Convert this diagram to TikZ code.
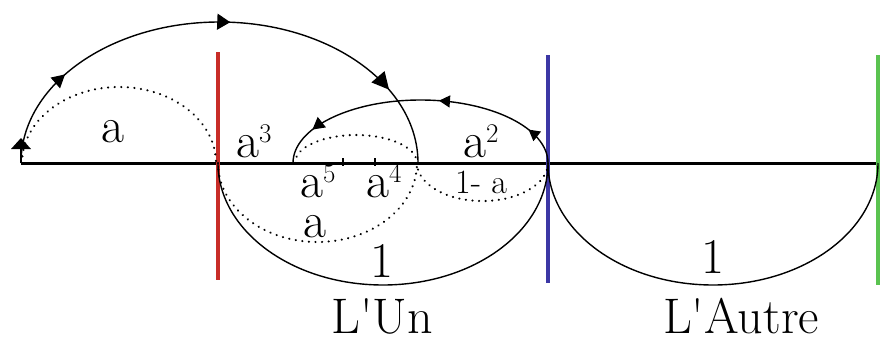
\documentclass[tikz,border=0pt]{standalone}
\usepackage{fontspec}
\usetikzlibrary{arrows.meta,decorations.markings}
\definecolor{redl}{RGB}{200,45,40}
\definecolor{bluel}{RGB}{60,55,165}
\definecolor{greenl}{RGB}{90,195,80}
\newcommand\supx[1]{\raisebox{15pt}{\fontsize{27}{27}\selectfont #1}}
\tikzset{
  curve/.style={line width=1.4pt},
  dots/.style={line width=2.3pt, dash pattern=on 0.1pt off 6.5pt, line cap=round},
  baseln/.style={line width=3pt},
  vline/.style={line width=4pt},
  lab/.style={inner sep=0pt, anchor=base, font=\fontsize{50}{50}\selectfont},
  labw/.style={inner sep=0pt, anchor=base west, font=\fontsize{50}{50}\selectfont},
  smalllab/.style={inner sep=0pt, anchor=base west, font=\fontsize{34}{34}\selectfont},
  tick/.style={line width=1.2pt},
}
\begin{document}
\begin{tikzpicture}[x=1pt,y=1pt]
\useasboundingbox (0,0) rectangle (892,-343);
% main coordinates
\coordinate (L0) at (21,-163);
\coordinate (R0) at (878,-163);
\coordinate (P0) at (218,-163);
\coordinate (Q0) at (548,-163);
\coordinate (T0) at (21,-138);
% baseline
\draw[baseln] (L0) -- (R0);
% coloured vertical lines
\draw[vline, redl] (218,-52) -- (218,-280);
\draw[vline, bluel] (548,-55) -- (548,-283);
\draw[vline, greenl] (878,-55) -- (878,-285);
% start arrow of the big arc
\draw[curve] (L0) -- (21,-148);
\fill (T0) -- (11,-149) -- (31,-149) -- cycle;
% big upper arc with arrows
\draw[curve, postaction={decorate, decoration={markings,
    mark=at position 0.19 with {\arrow{Triangle[length=13pt,width=14pt]}},
    mark=at position 0.52 with {\arrow{Triangle[length=13pt,width=16pt]}},
    mark=at position 0.85 with {\arrow{Triangle[length=17pt,width=17pt]}}}}]
  (L0) arc[start angle=180, end angle=0, x radius=198.5pt, y radius=141pt];
% dotted 'a' upper
\draw[dots] (22,-163) arc[start angle=180, end angle=0, x radius=97pt, y radius=76pt];
% second upper arc (a^2) with arrows
\draw[curve, postaction={decorate, decoration={markings,
    mark=at position 0.13 with {\arrow{Triangle[length=11pt,width=12pt]}},
    mark=at position 0.44 with {\arrow{Triangle[length=11pt,width=12pt]}},
    mark=at position 0.87 with {\arrow{Triangle[length=12pt,width=13pt]}}}}]
  (Q0) arc[start angle=0, end angle=180, x radius=127.5pt, y radius=63pt];
% dotted upper small (a^4)
\draw[dots] (295,-163) arc[start angle=180, end angle=0, x radius=61pt, y radius=28pt];
% dotted lower 'a'
\draw[dots] (P0) arc[start angle=180, end angle=360, x radius=99.5pt, y radius=79pt];
% dotted lower '1-a'
\draw[dots] (417,-163) arc[start angle=180, end angle=360, x radius=65.5pt, y radius=38pt];
% solid lower arcs '1'
\draw[curve] (P0) arc[start angle=180, end angle=360, x radius=165pt, y radius=122pt];
\draw[curve] (Q0) arc[start angle=180, end angle=360, x radius=165pt, y radius=122pt];
% ticks
\draw[tick] (343,-158) -- (343,-166);
\draw[tick] (375,-158) -- (375,-166);
% labels
\node[lab] (la) at (113,-142) {a};
\node[labw] (la3) at (236,-157) {a\supx{3}};
\node[labw] (la2) at (463,-157) {a\supx{2}};
\node[labw] (la5) at (300,-197) {a\supx{5}};
\node[labw] (la4) at (366,-197) {a\supx{4}};
\node[smalllab] (l1a) at (455,-193) {1- a};
\node[lab] (lab) at (315,-237) {a};
\node[lab] (one1) at (382,-277) {1};
\node[lab] (one2) at (713,-273) {1};
\node[lab] (un) at (382,-333) {L\textquotesingle Un};
\node[lab] (autre) at (741,-333) {L\textquotesingle Autre};
\end{tikzpicture}
\end{document}
